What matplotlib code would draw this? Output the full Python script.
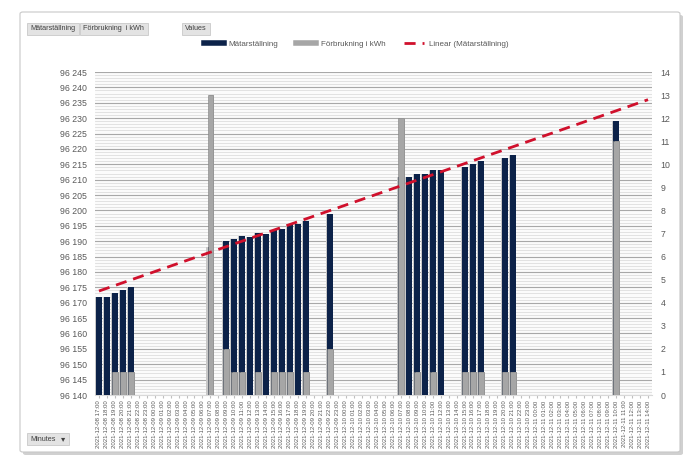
import numpy as np
import pandas as pd
import matplotlib
matplotlib.use("Agg")
import matplotlib.pyplot as plt
from matplotlib.patches import FancyBboxPatch, Rectangle
from matplotlib.lines import Line2D
from matplotlib.ticker import FuncFormatter, MultipleLocator

plt.rcParams["font.family"] = ["Liberation Sans", "DejaVu Sans"]

# hourly categories on the x axis
categories = [t.strftime("%Y-%m-%d %H:%M")
              for t in pd.date_range("2021-12-08 17:00", "2021-12-11 14:00", freq="h")]

# Mätarställning (left axis)
meter_times = ["2021-12-08 17:00", "2021-12-08 18:00", "2021-12-08 19:00", "2021-12-08 20:00",
               "2021-12-08 21:00", "2021-12-09 07:00", "2021-12-09 09:00", "2021-12-09 10:00",
               "2021-12-09 11:00", "2021-12-09 12:00", "2021-12-09 13:00", "2021-12-09 14:00",
               "2021-12-09 15:00", "2021-12-09 16:00", "2021-12-09 17:00", "2021-12-09 18:00",
               "2021-12-09 19:00", "2021-12-09 22:00", "2021-12-10 07:00", "2021-12-10 08:00",
               "2021-12-10 09:00", "2021-12-10 10:00", "2021-12-10 11:00", "2021-12-10 12:00",
               "2021-12-10 15:00", "2021-12-10 16:00", "2021-12-10 17:00", "2021-12-10 20:00",
               "2021-12-10 21:00", "2021-12-11 10:00"]
meter_values = [96172, 96172, 96173, 96174, 96175, 96188, 96190, 96190.7, 96191.7, 96191.5,
                96192.8, 96192.3, 96193.6, 96193.9, 96195.6, 96195.6, 96196.7, 96199, 96211, 96211,
                96212, 96212, 96213, 96213, 96214, 96215, 96216, 96217, 96218, 96229]

# Förbrukning i kWh (right axis)
kwh_times = ["2021-12-08 19:00", "2021-12-08 20:00", "2021-12-08 21:00", "2021-12-09 07:00",
             "2021-12-09 09:00", "2021-12-09 10:00", "2021-12-09 11:00", "2021-12-09 13:00",
             "2021-12-09 15:00", "2021-12-09 16:00", "2021-12-09 17:00", "2021-12-09 19:00",
             "2021-12-09 22:00", "2021-12-10 07:00", "2021-12-10 09:00", "2021-12-10 11:00",
             "2021-12-10 15:00", "2021-12-10 16:00", "2021-12-10 17:00", "2021-12-10 20:00",
             "2021-12-10 21:00", "2021-12-11 10:00"]
kwh_values = [1, 1, 1, 13, 2, 1, 1, 1, 1, 1, 1, 1, 2, 12, 1, 1, 1, 1, 1, 1, 1, 11]

# linear trendline end values
trend_start = 96173.8
trend_end = 96236.0

navy = "#0c2249"
gray = "#a6a6a6"
red = "#d0102c"
txt = "#595959"

fig = plt.figure(figsize=(7, 4.65), dpi=100)
fig.patch.set_facecolor("white")

# outer frame with a little shadow
shadow = FancyBboxPatch((23 / 700, 1 - 455 / 465), 660 / 700, 440 / 465,
                        boxstyle="round,pad=0,rounding_size=0.004", transform=fig.transFigure,
                        facecolor="#d0d0d0", edgecolor="none", zorder=-3)
frame = FancyBboxPatch((20 / 700, 1 - 452 / 465), 660 / 700, 440 / 465,
                       boxstyle="round,pad=0,rounding_size=0.004", transform=fig.transFigure,
                       facecolor="white", edgecolor="#c8c8c8", lw=0.8, zorder=-2)
fig.patches.extend([shadow, frame])

ax = fig.add_axes([95 / 700, 70 / 465, 557 / 700, 323 / 465])
ax2 = ax.twinx()
ax.set_facecolor("#fbfbfb")

x = np.arange(len(categories))
pos = {c: i for i, c in enumerate(categories)}
mx = [pos[t] for t in meter_times]
kx = [pos[t] for t in kwh_times]

ax.set_ylim(96140, 96245)
ax.set_xlim(-0.5, len(categories) - 0.5)
ax.yaxis.set_major_locator(MultipleLocator(5))
ax.yaxis.set_minor_locator(MultipleLocator(1))
ax.grid(which="minor", axis="y", color="#dedede", lw=0.6)
ax.grid(which="major", axis="y", color="#a8a8a8", lw=0.8)
ax.set_axisbelow(True)
ax.yaxis.set_major_formatter(FuncFormatter(lambda v, p: f"{int(v):,}".replace(",", " ")))

# shadows then bars
ax.bar(np.array(mx) - 0.15, np.array(meter_values) - 96140, bottom=96140, width=0.72,
       color="#c8c8c8", zorder=2)
ax.bar(mx, np.array(meter_values) - 96140, bottom=96140, width=0.72, color=navy, zorder=3)

ax2.set_ylim(0, 14)
ax2.yaxis.set_major_locator(MultipleLocator(1))
ax2.bar(np.array(kx) + 0.15, kwh_values, width=0.72, color="#c4c4c4", zorder=2)
ax2.bar(kx, kwh_values, width=0.72, color=gray, edgecolor="#7f7f7f", lw=0.4, zorder=3)

# trendline drawn above all bars
ax2.plot([x[0], x[-1]], [trend_start, trend_end], transform=ax.transData,
         color=red, lw=2, ls=(0, (4, 2.5)), zorder=5)

ax.set_xticks(x)
ax.set_xticklabels(categories, rotation=90, fontsize=4.3, color=txt)
ax.tick_params(axis="x", length=2, color="#bfbfbf", pad=2)
ax.tick_params(axis="y", which="both", length=0, labelsize=6.3, labelcolor=txt, pad=6)
ax2.tick_params(axis="y", length=0, labelsize=6.3, labelcolor=txt, pad=6)
for a in (ax, ax2):
    for s in a.spines.values():
        s.set_visible(False)
ax.spines["bottom"].set_visible(True)
ax.spines["bottom"].set_color("#d9d9d9")

# legend
handles = [Line2D([], [], color=navy, lw=4),
           Line2D([], [], color=gray, lw=4),
           Line2D([], [], color=red, lw=2, ls=(0, (4, 2.5)))]
fig.legend(handles, ["Mätarställning", "Förbrukning i kWh", "Linear (Mätarställning)"],
           loc="center", bbox_to_anchor=(356 / 700, 1 - 44 / 465), ncol=3, frameon=False,
           fontsize=5.8, handlelength=2.5, handletextpad=0.6, columnspacing=2.2, labelcolor=txt)

# pivot field buttons
def button(x0, y0, w, label, arrow=False):
    r = Rectangle((x0 / 700, 1 - (y0 + 12) / 465), w / 700, 12 / 465, transform=fig.transFigure,
                  facecolor="#e3e3e3", edgecolor="#c9c9c9", lw=0.6)
    fig.patches.append(r)
    fig.text((x0 + 3) / 700, 1 - (y0 + 6) / 465, label, fontsize=5.2, color="#404040",
             va="center", ha="left")
    if arrow:
        fig.text((x0 + w - 6) / 700, 1 - (y0 + 6) / 465, "▾", fontsize=6, color="#404040",
                 va="center", ha="center", family="DejaVu Sans")

button(27, 23, 52, "Mätarställning")
button(80, 23, 68, "Förbrukning  i kWh")
button(182, 23, 28, "Values")
button(27, 433, 42, "Minutes", arrow=True)

fig.savefig("out.png", dpi=100)
